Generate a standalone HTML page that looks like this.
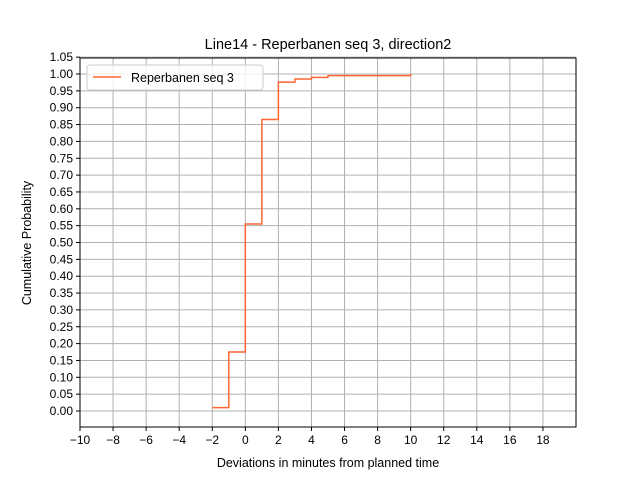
<!DOCTYPE html>
<html><head><meta charset="utf-8"><style>body{margin:0;background:#fff}svg{display:block;font-family:"Liberation Sans","DejaVu Sans",sans-serif}</style></head>
<body>
<svg id="chart" width="640" height="480"></svg>
<script>
const xs = [-2,-1,0,1,2,3,4,5,10];
const ys = [0.01,0.175,0.555,0.865,0.976,0.985,0.99,0.995,1.0];
const xTicks = [-10,-8,-6,-4,-2,0,2,4,6,8,10,12,14,16,18];
const yTicks = [0,0.05,0.1,0.15,0.2,0.25,0.3,0.35,0.4,0.45,0.5,0.55,0.6,0.65,0.7,0.75,0.8,0.85,0.9,0.95,1.0,1.05];
const L=80,R=576,T=58,B=427;
const X=v=>L+(v+10)/30*(R-L);
const Y=v=>411-v*337;
const s=document.getElementById('chart');const NS='http://www.w3.org/2000/svg';
function mk(t,a,p){const e=document.createElementNS(NS,t);for(const k in a)e.setAttribute(k,a[k]);(p||s).appendChild(e);return e;}
const g=mk('g',{});


xTicks.forEach(v=>{mk('line',{x1:X(v),x2:X(v),y1:T,y2:B,stroke:'#b0b0b0','stroke-width':1},g);
mk('line',{x1:X(v),x2:X(v),y1:B,y2:B+4,stroke:'#000'});
const t=mk('text',{x:X(v),y:B+17,'font-size':12,'text-anchor':'middle'});t.textContent=(v<0?'\u2212'+(-v):v);

});
yTicks.forEach(v=>{mk('line',{x1:L,x2:R,y1:Y(v),y2:Y(v),stroke:'#b0b0b0','stroke-width':1},g);
mk('line',{x1:L-4,x2:L,y1:Y(v),y2:Y(v),stroke:'#000'});
const t=mk('text',{x:L-7,y:Y(v)+4,'font-size':12,'text-anchor':'end'});t.textContent=v.toFixed(2);

});
let d='M'+X(xs[0])+','+Y(ys[0]);
for(let i=1;i<xs.length;i++){d+=' L'+X(xs[i])+','+Y(ys[i-1])+' L'+X(xs[i])+','+Y(ys[i]);}
const p=mk('path',{d:d,fill:'none',stroke:'#ff6633','stroke-width':1.5});


const fr=mk('rect',{x:L,y:T,width:R-L,height:B-T,fill:'none',stroke:'#000','stroke-width':1});


</script>
<svg style="position:absolute;left:0;top:0" width="640" height="480">
<text x="328" y="49" font-size="14.5" text-anchor="middle">Line14 - Reperbanen seq 3, direction2</text>
<text x="328" y="467" font-size="12.5" text-anchor="middle">Deviations in minutes from planned time</text>
<text x="31" y="243" font-size="12.5" text-anchor="middle" transform="rotate(-90 31 243)">Cumulative Probability</text>
<g>
<rect x="87" y="65" width="176" height="25" rx="3" fill="#fff" fill-opacity="0.8" stroke="#ccc"/>
<line x1="93" x2="121" y1="77" y2="77" stroke="#ff6633" stroke-width="1.5"/>
<text x="131" y="82" font-size="12.5">Reperbanen seq 3</text>
</g>
</svg>
</body></html>
